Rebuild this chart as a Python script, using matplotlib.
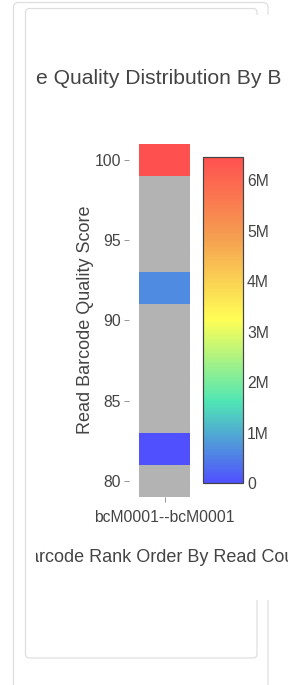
import numpy as np
import matplotlib
matplotlib.use("Agg")
import matplotlib.pyplot as plt
from matplotlib.colors import LinearSegmentedColormap
from matplotlib.patches import FancyBboxPatch, Rectangle

# ---- data ----
barcodes = ["bcM0001--bcM0001"]
quality_scores = [80, 82, 84, 86, 88, 90, 92, 94, 96, 98, 100]
read_counts = [np.nan, 3000, np.nan, np.nan, np.nan, np.nan, 650000,
               np.nan, np.nan, np.nan, 6470000]
cbar_ticks = [0, 1e6, 2e6, 3e6, 4e6, 5e6, 6e6]
cbar_ticklabels = ["0", "1M", "2M", "3M", "4M", "5M", "6M"]
y_ticks = [80, 85, 90, 95, 100]
title_text = "e Quality Distribution By B"
xlabel_text = "arcode Rank Order By Read Cou"
ylabel_text = "Read Barcode Quality Score"

W, H = 307, 685
DPI = 100
fig = plt.figure(figsize=(W / DPI, H / DPI), dpi=DPI)
fig.patch.set_facecolor("white")
plt.rcParams["font.family"] = ["Liberation Sans", "DejaVu Sans"]

TXT = "#444444"
PX = 72 / DPI  # points per pixel


def fy(y):
    """pixel y from top -> overlay coordinate (from bottom)"""
    return H - y


# background overlay in pixel coords (y from bottom)
bg = fig.add_axes([0, 0, 1, 1], zorder=0)
bg.set_xlim(0, W)
bg.set_ylim(0, H)
bg.axis("off")

frame_col = "#dedede"
outer = FancyBboxPatch((13.5, fy(720)), 254.5, 717.5, boxstyle="round,pad=0,rounding_size=5",
                       fill=False, ec=frame_col, lw=1.2 * PX, zorder=1)
inner = FancyBboxPatch((25.5, fy(658)), 231.5, 649.5, boxstyle="round,pad=0,rounding_size=4",
                       fill=False, ec=frame_col, lw=1.2 * PX, zorder=1)
bg.add_patch(outer)
bg.add_patch(inner)
# white plot (svg) region covering frame lines
svg_x0, svg_x1, svg_top, svg_bot = 35.5, 287.5, 15, 600
bg.add_patch(Rectangle((svg_x0, fy(svg_bot)), svg_x1 - svg_x0, svg_bot - svg_top,
                       fc="white", ec="none", zorder=2))

clip = Rectangle((svg_x0, fy(svg_bot)), svg_x1 - svg_x0, svg_bot - svg_top,
                 transform=bg.transData)

t1 = bg.text(35.5, fy(78), title_text, ha="left", va="center", fontsize=15.2,
             color=TXT, zorder=3)
t1.set_clip_on(True)
t1.set_clip_path(clip)
t2 = bg.text(29, fy(558), xlabel_text, ha="left", va="center", fontsize=13,
             color=TXT, zorder=3)
t2.set_clip_on(True)
t2.set_clip_path(clip)
bg.text(86, fy(320), ylabel_text, ha="center", va="center", rotation=90,
        fontsize=13, color=TXT, zorder=3)

# colormap
cmap = LinearSegmentedColormap.from_list(
    "custom",
    [(0.0, "#5050ff"), (0.25, "#50e6b4"), (0.5, "#ffff55"),
     (0.75, "#f5a050"), (1.0, "#ff5050")])

# heatmap axes
l, r, t, b = 139, 190, 144, 497
ax = fig.add_axes([l / W, 1 - b / H, (r - l) / W, (b - t) / H], zorder=2)
ax.set_facecolor("#b3b3b3")
Z = np.ma.masked_invalid(np.array(read_counts, dtype=float).reshape(-1, 1))
xs = np.arange(len(barcodes))
x_edges = np.concatenate([xs - 0.5, [xs[-1] + 0.5]])
qs = np.array(quality_scores, dtype=float)
y_edges = np.concatenate([qs - 1, [qs[-1] + 1]])
vmax = np.nanmax(np.array(read_counts, dtype=float))
mesh = ax.pcolormesh(x_edges, y_edges, Z, cmap=cmap, vmin=0, vmax=vmax)
ax.set_xlim(x_edges[0], x_edges[-1])
ax.set_ylim(y_edges[0], y_edges[-1])
for s in ax.spines.values():
    s.set_visible(False)
ax.spines["left"].set_position(("outward", 10 * PX))
ax.set_yticks(y_ticks)
ax.set_xticks(xs)
ax.set_xticklabels(barcodes)
ax.tick_params(axis="both", colors="#999999", labelcolor=TXT, labelsize=11.3,
               length=5 * PX, width=1 * PX)
ax.tick_params(axis="y", pad=3 * PX)
ax.tick_params(axis="x", pad=8 * PX)

# colorbar
cl, cr, ct, cb = 203, 243, 156.7, 483
cax = fig.add_axes([cl / W, 1 - cb / H, (cr - cl) / W, (cb - ct) / H], zorder=2)
cbar = fig.colorbar(mesh, cax=cax)
cbar.set_ticks(cbar_ticks)
cbar.set_ticklabels(cbar_ticklabels)
cbar.outline.set_edgecolor("#444444")
cbar.outline.set_linewidth(1.2 * PX)
cax.tick_params(length=0, labelsize=11.3, labelcolor=TXT, pad=4 * PX)

fig.savefig("out.png", dpi=DPI)
